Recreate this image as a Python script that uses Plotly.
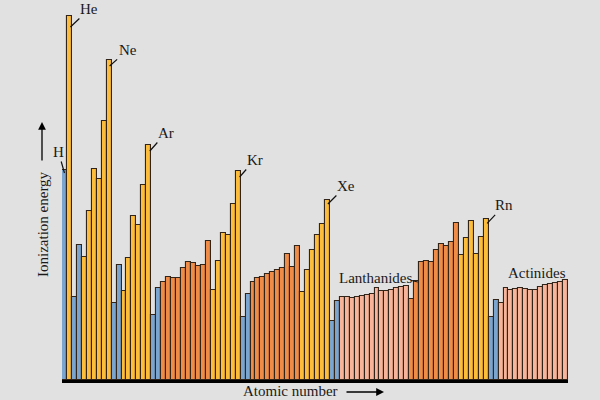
import plotly.graph_objects as go

# Relative first ionization energies (arbitrary units), Z = 1..102
atomic_number = list(range(1, 103))
energy = [
    210, 364, 83, 135, 123, 169, 211, 201, 259, 320,          # 1-10
    77, 115, 89, 122, 164, 155, 195, 235,                     # 11-18
    65, 92, 98, 103, 102, 102, 112, 118, 117, 114.5, 115.5, 139.5,  # 19-30
    90, 119, 147, 145, 176, 209,                              # 31-36
    63, 86, 98, 102, 103, 106, 108.5, 110.5, 112, 126, 113, 134.5,  # 37-48
    88, 110, 130, 145, 156.5, 180,                            # 49-54
    59, 79,                                                   # 55-56
    83.5, 83, 82, 83, 84, 85, 86, 92, 89, 89, 90.5, 92.3, 93.3, 94.5,  # 57-70
    81.5, 99, 118, 119.3, 118.3, 130, 136, 134.5, 137.7, 156.7,  # 71-80
    125.4, 142, 159.5, 125.7, 142.8, 160.7,                   # 81-86
    62.8, 79.8,                                               # 87-88
    77.5, 91.7, 89.7, 91.4, 92.5, 91.4, 89.9, 89.9, 93.3, 94.8, 96.2, 97.3, 98, 99.7,  # 89-102
]

# Block of each element
s_block = [1, 3, 4, 11, 12, 19, 20, 37, 38, 55, 56, 87, 88]
p_block = [2] + list(range(5, 11)) + list(range(13, 19)) + list(range(31, 37)) + list(range(49, 55)) + list(range(81, 87))
d_block = list(range(21, 31)) + list(range(39, 49)) + list(range(71, 81))
f_block = list(range(57, 71)) + list(range(89, 103))

labels = ["H", "He", "Ne", "Ar", "Kr", "Xe", "Rn"]
label_z = [1, 2, 10, 18, 36, 54, 86]

block_colors = {"s": "#7ba4cf", "p": "#fcbd3c", "d": "#ef8c48", "f": "#f8b49b"}


def block_of(z):
    if z in s_block:
        return "s"
    if z in p_block:
        return "p"
    if z in d_block:
        return "d"
    return "f"


colors = [block_colors[block_of(z)] for z in atomic_number]

fig = go.Figure()
fig.add_trace(go.Bar(
    x=atomic_number, y=energy,
    marker=dict(color=colors, line=dict(color="#33241a", width=1.1)),
    hoverinfo="x+y",
))

serif = "Liberation Serif, Times New Roman, serif"
BG = "#e1e1e1"

# (dx of arrow head in bar widths, drop of head below bar top in px, text offset ax, ay in px)
label_geom = {"H": (0.0, 3, -6, -21), "He": (0.2, 11, 19, -18), "Ne": (0.1, 6, 18, -16),
              "Ar": (0.2, 6, 16, -18), "Kr": (0.3, 6, 15, -17), "Xe": (0.1, 4, 18, -18),
              "Rn": (0.2, 4, 17, -18)}
annotations = []
for name, z in zip(labels, label_z):
    dx, drop, ax, ay = label_geom[name]
    annotations.append(dict(
        x=z + dx, y=energy[z - 1] - drop, xref="x", yref="y",
        text=name, showarrow=True, arrowhead=0, arrowwidth=1.2, arrowcolor="#111",
        ax=ax, ay=ay, font=dict(family=serif, size=15, color="#1a1a1a"),
    ))

annotations.append(dict(x=63.6, y=102, xref="x", yref="y", text="Lanthanides",
                        showarrow=False, font=dict(family=serif, size=15, color="#1a1a1a")))
annotations.append(dict(x=72.2, y=98, xref="x", yref="y", text="", ax=-8, ay=-2,
                        showarrow=True, arrowhead=0, arrowwidth=1, arrowcolor="#111"))
annotations.append(dict(x=96.3, y=107, xref="x", yref="y", text="Actinides",
                        showarrow=False, font=dict(family=serif, size=15, color="#1a1a1a")))

# axis titles (positions given in pixels, converted below)
annotations.append(dict(x=290, y=391, xref="paper", yref="paper", text="Atomic number",
                        showarrow=False, font=dict(family=serif, size=15, color="#1a1a1a")))
annotations.append(dict(x=43, y=224, xref="paper", yref="paper", text="Ionization energy",
                        textangle=-90, showarrow=False, font=dict(family=serif, size=15, color="#1a1a1a")))

fig.update_layout(
    width=600, height=400,
    margin=dict(l=62, r=32, t=0, b=20),
    paper_bgcolor=BG, plot_bgcolor=BG,
    bargap=0, showlegend=False,
    xaxis=dict(range=[0.5, 102.5], showgrid=False, zeroline=False, showticklabels=False,
               ticks="", showline=True, linecolor="#000", linewidth=3),
    yaxis=dict(range=[0, 380], showgrid=False, zeroline=False, showticklabels=False,
               ticks="", showline=False),
)

for a in annotations:
    if a.get("xref") == "paper":
        a["x"] = (a["x"] - 62) / 506
        a["y"] = (380 - a["y"]) / 380
        a["xanchor"] = "center"
        a["yanchor"] = "middle"

# arrows for axis titles
annotations.append(dict(x=(384 - 62) / 506, y=(380 - 392) / 380, xref="paper", yref="paper",
                        text="", showarrow=True, ax=-39, ay=0, arrowhead=2, arrowsize=1.2,
                        arrowwidth=1.3, arrowcolor="#000"))
annotations.append(dict(x=(42 - 62) / 506, y=(380 - 122) / 380, xref="paper", yref="paper",
                        text="", showarrow=True, ax=0, ay=40, arrowhead=2, arrowsize=1.2,
                        arrowwidth=1.3, arrowcolor="#000"))

fig.update_layout(annotations=annotations)
fig.write_html(
    "out.html",
    config={"displayModeBar": False},
    post_script="document.body.style.margin='0';document.body.style.background='#e1e1e1';",
)
